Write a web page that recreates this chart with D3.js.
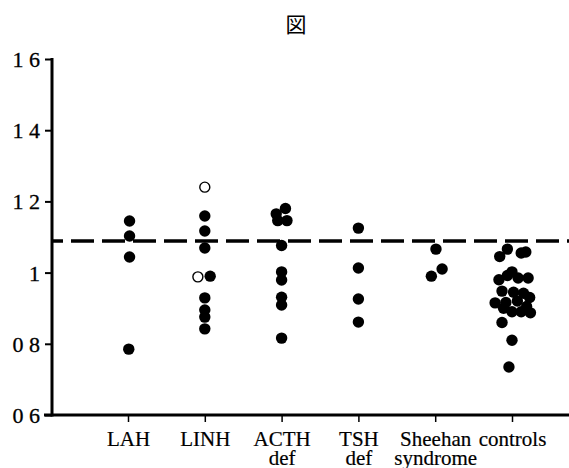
<!DOCTYPE html>
<html>
<head>
<meta charset="utf-8">
<script src="https://cdn.jsdelivr.net/npm/d3@7"></script>
<style>
  body { margin: 0; background: #fff; }
  text { font-family: "Liberation Serif", "DejaVu Serif", serif; fill: #000; }
</style>
</head>
<body>
<div id="cont"></div>
<script>
// Data (offset in category units, value)
var categories = ["LAH", "LINH", "ACTH\ndef", "TSH\ndef", "Sheehan\nsyndrome", "controls"];
var yTicks = [0.6, 0.8, 1.0, 1.2, 1.4, 1.6];
var yTickLabels = ["0 6", "0 8", "1", "1 2", "1 4", "1 6"];
var cutoff = 1.089;

var lah = [[0.02, 1.145], [0.02, 1.103], [0.02, 1.044], [0.01, 0.785]];
var linh = [[0, 1.159], [0, 1.117], [0, 1.069], [0.07, 0.990], [0, 0.929], [0, 0.895], [0, 0.875], [0, 0.842]];
var linhOpen = [[0, 1.240], [-0.09, 0.988]];
var acth = [[-0.07, 1.165], [0.05, 1.180], [-0.05, 1.146], [0.07, 1.146], [0, 1.076], [0, 1.002], [0, 0.979], [0, 0.931], [0, 0.909], [0, 0.816]];
var tsh = [[0, 1.125], [0, 1.013], [0, 0.926], [0, 0.861]];
var sheehan = [[0.01, 1.066], [0.09, 1.010], [-0.05, 0.990]];
var controls = [
  [-0.06, 1.066], [-0.16, 1.045], [0.12, 1.055], [0.18, 1.058],
  [0, 1.002], [-0.17, 0.980], [-0.06, 0.992], [0.08, 0.985], [0.21, 0.985],
  [-0.13, 0.948], [0.02, 0.945], [0.15, 0.942], [0.23, 0.930],
  [-0.22, 0.915], [-0.08, 0.916], [0.07, 0.920], [0.19, 0.905],
  [-0.11, 0.900], [0, 0.890], [0.12, 0.890], [0.24, 0.887],
  [-0.13, 0.860], [0, 0.810], [-0.04, 0.735]
];

var groups = [lah, linh, acth, tsh, sheehan, controls];

// SVG container
var svg = d3.select("#cont").append("svg")
    .attr("width", 569)
    .attr("height", 468);

var x = d3.scaleLinear().domain([0, 5]).range([128, 512]);
var y = d3.scaleLinear().domain([0.6, 1.6]).range([415, 59]);

// title
svg.append("text")
    .attr("x", 296).attr("y", 32)
    .attr("text-anchor", "middle")
    .style("font-family", "'Noto Sans CJK JP', sans-serif")
    .style("font-size", "21px")
    .text("図");

// y axis
var yAxis = svg.append("g")
    .attr("transform", "translate(52,0)")
    .call(d3.axisLeft(y)
        .tickValues(yTicks)
        .tickFormat(function(d, i) { return yTickLabels[i]; })
        .tickSize(7)
        .tickPadding(5));
yAxis.select(".domain").remove();
yAxis.selectAll(".tick line").attr("stroke", "#000").attr("stroke-width", 2);
yAxis.selectAll(".tick text")
    .style("font-size", "22px")
    .attr("stroke", "#000").attr("stroke-width", 0.3)
    .attr("dy", "0.34em");
svg.append("line")
    .attr("x1", 52).attr("x2", 52)
    .attr("y1", y(1.6) - 1).attr("y2", y(0.6) + 1.5)
    .attr("stroke", "#000").attr("stroke-width", 3);

// x axis
var xAxis = svg.append("g")
    .attr("transform", "translate(0,415)")
    .call(d3.axisBottom(x)
        .tickValues(d3.range(categories.length))
        .tickFormat(function(d) { return categories[d]; })
        .tickSize(7)
        .tickPadding(8));
xAxis.select(".domain").remove();
xAxis.selectAll(".tick line").attr("stroke", "#000").attr("stroke-width", 1.5);
xAxis.selectAll(".tick text").each(function(d) {
    var t = d3.select(this);
    var lines = categories[d].split("\n");
    t.text(null).attr("dy", null).attr("y", 31)
        .style("font-size", "21px")
        .attr("stroke", "#000").attr("stroke-width", 0.2);
    lines.forEach(function(l, i) {
        t.append("tspan").attr("x", 0).attr("dy", i ? 19 : 0).text(l);
    });
});
svg.append("line")
    .attr("x1", 44).attr("x2", 569)
    .attr("y1", 415).attr("y2", 415)
    .attr("stroke", "#000").attr("stroke-width", 3);

// cutoff dashed line
svg.append("line")
    .attr("x1", 53).attr("x2", 569)
    .attr("y1", y(cutoff)).attr("y2", y(cutoff))
    .attr("stroke", "#000").attr("stroke-width", 3.5)
    .attr("stroke-dasharray", "23,8")
    .attr("stroke-dashoffset", -18);

// filled points
groups.forEach(function(g, gi) {
    svg.append("g").selectAll("circle")
        .data(g)
        .enter().append("circle")
        .attr("cx", function(d) { return x(gi + d[0]); })
        .attr("cy", function(d) { return y(d[1]); })
        .attr("r", 5.7)
        .attr("fill", "#000");
});

// open points (LINH)
svg.append("g").selectAll("circle")
    .data(linhOpen)
    .enter().append("circle")
    .attr("cx", function(d) { return x(1 + d[0]); })
    .attr("cy", function(d) { return y(d[1]); })
    .attr("r", 5)
    .attr("fill", "#fff")
    .attr("stroke", "#000")
    .attr("stroke-width", 1.4);
</script>
</body>
</html>
